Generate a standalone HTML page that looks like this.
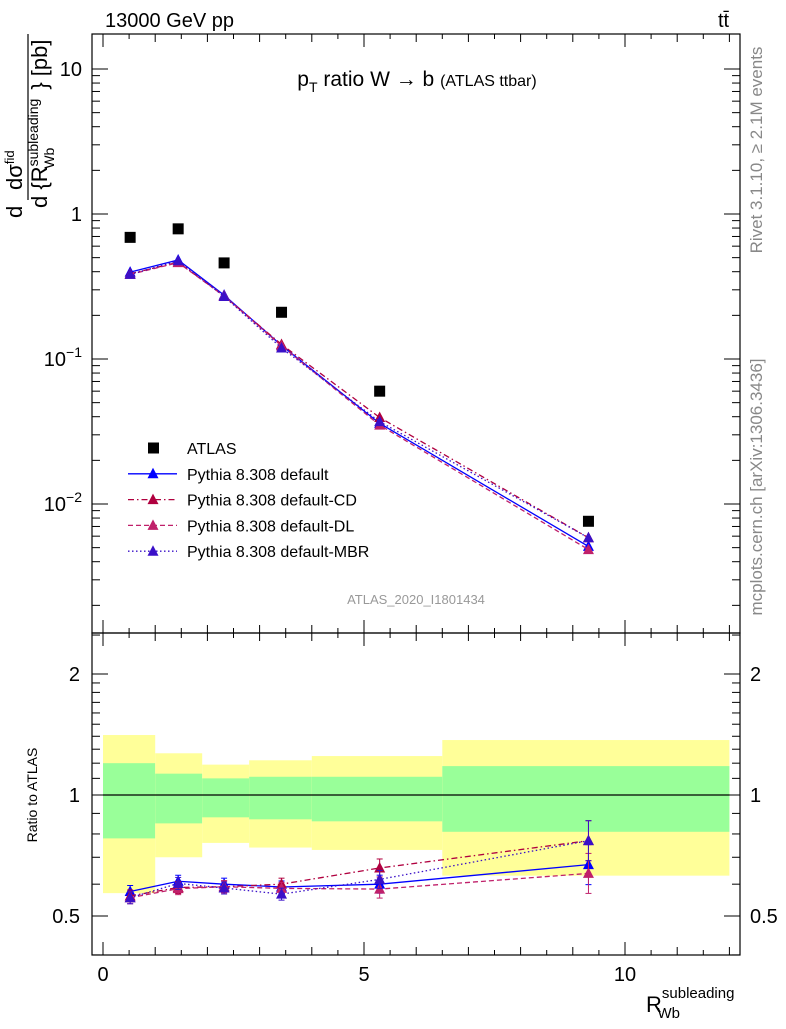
<!DOCTYPE html>
<html><head><meta charset="utf-8"><style>
body{margin:0;background:#fff;font-family:"Liberation Sans",sans-serif}
svg text{font-family:"Liberation Sans","DejaVu Sans",sans-serif}
</style></head><body>
<svg id="c" width="786" height="1024" xmlns="http://www.w3.org/2000/svg">
<g id="bands"></g>
<g id="grid"></g>
<g id="series"></g>
<text x="105" y="27" font-size="20">13000 GeV pp</text>
<text x="718" y="27" font-size="20">tt̄</text>
<text x="417" y="86" font-size="21" text-anchor="middle">p<tspan font-size="14" dy="6">T</tspan><tspan dy="-6"> ratio W → b </tspan><tspan font-size="16">(ATLAS ttbar)</tspan></text>
<text x="416" y="604" font-size="13" fill="#999" text-anchor="middle">ATLAS_2020_I1801434</text>
<text transform="translate(762,150) rotate(-90)" font-size="17" fill="#888" text-anchor="middle">Rivet 3.1.10, ≥ 2.1M events</text>
<text transform="translate(762,487) rotate(-90)" font-size="17" fill="#888" text-anchor="middle">mcplots.cern.ch [arXiv:1306.3436]</text>
<g>
<text transform="translate(22,218) rotate(-90)" font-size="22">d</text>
<line x1="28" y1="200" x2="28" y2="34" stroke="#000" stroke-width="1.2"/>
<text transform="translate(22,190) rotate(-90)" font-size="22">dσ<tspan font-size="13" dy="-8">fid</tspan></text>
<text transform="translate(47,208) rotate(-90)" font-size="22">d {R<tspan font-size="14" dy="-9">subleading</tspan><tspan font-size="14" dy="16" dx="-70">Wb</tspan><tspan dy="-7" dx="58">} [pb]</tspan></text>
</g>
<text transform="translate(37,795) rotate(-90)" font-size="14" text-anchor="middle">Ratio to ATLAS</text>
<text x="646" y="1012" font-size="22">R<tspan font-size="15" dy="-14">subleading</tspan><tspan font-size="15" dy="20" dx="-77">Wb</tspan></text>
<g id="legend"></g>
</svg>
<script>
const binEdges=[0,1,1.9,2.8,4,6.5,12];
const xPoints=[0.52,1.44,2.32,3.42,5.3,9.3];
const atlas=[0.69,0.79,0.46,0.21,0.060,0.0076];
const bandYellowUp=[1.41,1.27,1.19,1.22,1.25,1.37];
const bandGreenUp=[1.20,1.13,1.10,1.11,1.11,1.18];
const bandGreenDn=[0.78,0.85,0.88,0.87,0.86,0.81];
const bandYellowDn=[0.57,0.70,0.76,0.74,0.73,0.63];
const mcDefault=[0.397,0.482,0.276,0.124,0.036,0.0051];
const mcCD=[0.387,0.465,0.272,0.126,0.0395,0.00585];
const mcDL=[0.383,0.462,0.272,0.123,0.035,0.00485];
const mcMBR=[0.383,0.476,0.270,0.119,0.037,0.00585];
const xTicks=[0,5,10];
const yTicks=[10,1,0.1,0.01];
const yTickLabels=["10","1","10^-1","10^-2"];
const rTicks=[2,1,0.5];
const rTickLabels=["2","1","0.5"];
const legendLabels=["ATLAS","Pythia 8.308 default","Pythia 8.308 default-CD","Pythia 8.308 default-DL","Pythia 8.308 default-MBR"];

const NS="http://www.w3.org/2000/svg";
const L=92,R=740,T=34,MB=633,RB=955;
const X=v=>103+v*52.2;
const Y=v=>214-145*Math.log10(v);
const RY=v=>795-121*Math.log2(v);
function mk(tag,attrs,parent){const e=document.createElementNS(NS,tag);for(const k in attrs)e.setAttribute(k,attrs[k]);parent.appendChild(e);return e;}
const bands=document.getElementById('bands'),grid=document.getElementById('grid'),ser=document.getElementById('series'),leg=document.getElementById('legend');

for(let i=0;i<atlas.length;i++){
  const x0=X(binEdges[i]),x1=X(binEdges[i+1]);
  let r=mk('rect',{x:x0,y:RY(bandYellowUp[i]),width:x1-x0,height:RY(bandYellowDn[i])-RY(bandYellowUp[i]),fill:'#ffff99'},bands);
  
  
  let g=mk('rect',{x:x0,y:RY(bandGreenUp[i]),width:x1-x0,height:RY(bandGreenDn[i])-RY(bandGreenUp[i]),fill:'#99ff99'},bands);
  
  
}
mk('line',{x1:X(0),x2:X(12),y1:RY(1),y2:RY(1),stroke:'#000','stroke-width':1.2},bands);

mk('rect',{x:L,y:T,width:R-L,height:MB-T,fill:'none',stroke:'#000','stroke-width':1.2},grid);
mk('rect',{x:L,y:MB,width:R-L,height:RB-MB,fill:'none',stroke:'#000','stroke-width':1.2},grid);
for(let v=0;v<=12;v+=0.5){
  const maj=xTicks.includes(v),len=maj?13:(Number.isInteger(v)?8:5);
  for(const [top,bot] of [[T,MB],[MB,RB]]){
    mk('line',{x1:X(v),x2:X(v),y1:bot,y2:bot-len,stroke:'#000'},grid);
    mk('line',{x1:X(v),x2:X(v),y1:top,y2:top+len,stroke:'#000'},grid);
  }
}
xTicks.forEach(v=>{const t=mk('text',{x:X(v),y:981,'font-size':20,'text-anchor':'middle'},grid);t.textContent=v;

});
for(let d=-3;d<=1;d++){for(let m=1;m<10;m++){const v=m*Math.pow(10,d);const y=Y(v);if(y<T||y>MB)continue;const len=m==1?16:8;
mk('line',{x1:L,x2:L+len,y1:y,y2:y,stroke:'#000'},grid);mk('line',{x1:R,x2:R-len,y1:y,y2:y,stroke:'#000'},grid);}}
yTicks.forEach((v,i)=>{const s=yTickLabels[i];const t=mk('text',{x:82,y:Y(v)+7,'font-size':20,'text-anchor':'end'},grid);
if(s.includes('^')){const [b,e]=s.split('^');t.textContent=b;const ts=mk('tspan',{'font-size':14,dy:-9},t);ts.textContent=e.replace('-','−');}else t.textContent=s;

});
[0.4,0.5,0.6,0.7,0.8,0.9,1,1.1,1.2,1.3,1.4,1.5,1.6,1.7,1.8,1.9,2,2.5].forEach(v=>{const y=RY(v);if(y<MB||y>RB)return;const len=(v==0.5||v==1||v==2)?16:8;
mk('line',{x1:L,x2:L+len,y1:y,y2:y,stroke:'#000'},grid);mk('line',{x1:R,x2:R-len,y1:y,y2:y,stroke:'#000'},grid);});
rTicks.forEach((v,i)=>{for(const [x,a] of [[80,'end'],[750,'start']]){const t=mk('text',{x:x,y:RY(v)+7,'font-size':20,'text-anchor':a},grid);t.textContent=rTickLabels[i];

}});

function tri(x,y,c,p){return mk('polygon',{points:`${x-5.5},${y+4.5} ${x+5.5},${y+4.5} ${x},${y-6}`,fill:c},p);}
const mcs=[[mcDefault,'#0000ff','','mc-default'],[mcCD,'#b0003f','6,3,1.5,3','mc-default-cd'],[mcDL,'#c0206a','5,3','mc-default-dl'],[mcMBR,'#3a10c8','1.5,2.5','mc-default-mbr']];
mcs.forEach(([d,c,dash,name])=>{
  const g=mk('g',{},ser);
  
  
  mk('polyline',{points:d.map((v,i)=>X(xPoints[i])+','+Y(v)).join(' '),fill:'none',stroke:c,'stroke-width':1.3,'stroke-dasharray':dash},g);
  mk('polyline',{points:d.map((v,i)=>X(xPoints[i])+','+RY(v/atlas[i])).join(' '),fill:'none',stroke:c,'stroke-width':1.3,'stroke-dasharray':dash},g);
  d.forEach((v,i)=>{tri(X(xPoints[i]),Y(v),c,g);const ry=RY(v/atlas[i]);const e=i==5?20:(i==4?9:6);
    mk('line',{x1:X(xPoints[i]),x2:X(xPoints[i]),y1:ry-e,y2:ry+e,stroke:c},g);
    mk('line',{x1:X(xPoints[i])-3,x2:X(xPoints[i])+3,y1:ry-e,y2:ry-e,stroke:c},g);
    mk('line',{x1:X(xPoints[i])-3,x2:X(xPoints[i])+3,y1:ry+e,y2:ry+e,stroke:c},g);
    tri(X(xPoints[i]),ry,c,g);});
});
const ga=mk('g',{},ser);


atlas.forEach((v,i)=>{mk('rect',{x:X(xPoints[i])-5.5,y:Y(v)-5.5,width:11,height:11,fill:'#000'},ga);});

legendLabels.forEach((s,i)=>{const y=448+i*25.8;
  const g=mk('g',{},leg);
  
  
  if(i==0)mk('rect',{x:148,y:y-5.5,width:11,height:11,fill:'#000'},g);
  else{const [,c,dash]=mcs[i-1];mk('line',{x1:128,x2:177,y1:y,y2:y,stroke:c,'stroke-width':1.3,'stroke-dasharray':dash},g);tri(153,y,c,g);}
  const t=mk('text',{x:187,y:y+6,'font-size':16},g);t.textContent=s;});
</script>
</body></html>
